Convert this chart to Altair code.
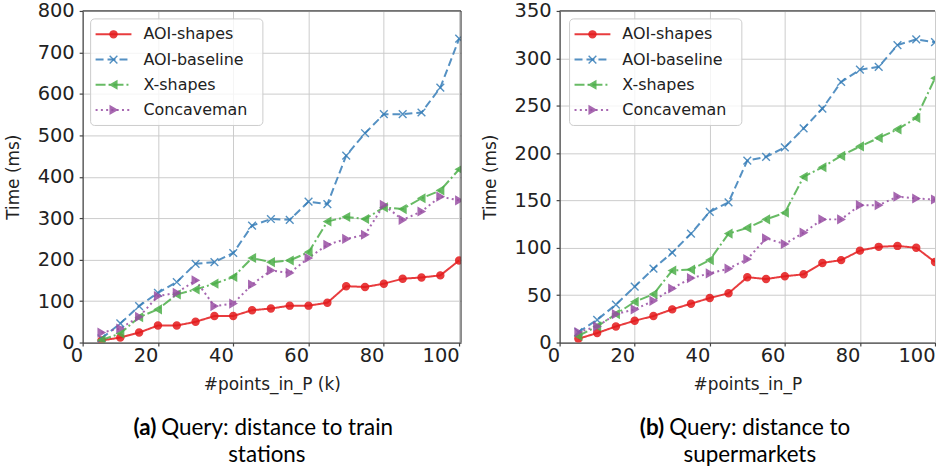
import altair as alt
import pandas as pd

SERIES = ["AOI-shapes", "AOI-baseline", "X-shapes", "Concaveman"]
X_POINTS = [5, 10, 15, 20, 25, 30, 35, 40, 45, 50, 55, 60, 65, 70, 75, 80, 85, 90, 95, 100]

TRAIN_AOI_SHAPES = [5, 12, 24, 41, 41, 50, 64, 64, 78, 82, 89, 89, 96, 136, 134, 142, 154, 157, 162, 198]
TRAIN_AOI_BASELINE = [10, 46, 88, 120, 146, 190, 194, 216, 282, 298, 296, 340, 334, 451, 505, 551, 551, 555, 615, 733]
TRAIN_X_SHAPES = [6, 22, 61, 80, 116, 128, 142, 158, 204, 194, 198, 218, 292, 303, 298, 326, 322, 348, 367, 418]
TRAIN_CONCAVEMAN = [24, 34, 62, 112, 120, 150, 88, 94, 140, 174, 168, 204, 236, 250, 260, 332, 296, 316, 352, 343]

SUPER_AOI_SHAPES = [4, 10, 17, 23, 28, 35, 41, 47, 52, 69, 67, 70, 72, 84, 87, 97, 101, 102, 100, 85]
SUPER_AOI_BASELINE = [11, 24, 40, 59, 78, 95, 115, 138, 148, 192, 196, 206, 226, 247, 275, 288, 291, 314, 320, 317]
SUPER_X_SHAPES = [7, 17, 30, 43, 51, 76, 77, 87, 115, 121, 130, 137, 175, 185, 197, 207, 216, 225, 237, 279]
SUPER_CONCAVEMAN = [11, 17, 30, 35, 44, 57, 68, 73, 78, 88, 110, 104, 116, 130, 130, 145, 145, 154, 152, 151]

X_TICKS = [0, 20, 40, 60, 80, 100]
TRAIN_Y_TICKS = [0, 100, 200, 300, 400, 500, 600, 700, 800]
SUPER_Y_TICKS = [0, 50, 100, 150, 200, 250, 300, 350]

CAPTION_A = ["(a)", "Query: distance to train", "stations"]
CAPTION_B = ["(b)", "Query: distance to", "supermarkets"]
X_TITLE_A = "#points_in_P (k)"
X_TITLE_B = "#points_in_P"
Y_TITLE = "Time (ms)"

COLORS = ["#e41a1c", "#377eb8", "#4daf4a", "#984ea3"]
DASHES = [[1, 0], [8, 4], [10, 3, 2, 3], [2, 3.3]]
SHAPES = ["circle", "M-1,-1L1,1M-1,1L1,-1", "triangle-left", "triangle-right"]
SIZES = [50, 60, 60, 60]

H = 333
FONT = "DejaVu Sans"
CAP_FONT = "Lato"
CAP_SIZE = 22.5
FRAME = "#444444"


def make_panel(series_values, y_max, y_ticks, width, x_max, x_title, caption,
               dx, cap_pos, right_frame):
    rows = []
    for name, vals in zip(SERIES, series_values):
        for xv, yv in zip(X_POINTS, vals):
            rows.append({"x": xv, "t": yv, "s": name})
    df = pd.DataFrame(rows)

    x_enc = alt.X("x:Q", scale=alt.Scale(domain=[0, x_max], nice=False, zero=False),
                  axis=alt.Axis(values=X_TICKS, title=x_title, labelAlign="right",
                                labelBaseline="top", labelPadding=1, labelFlush=False,
                                titlePadding=11, titleFont=FONT, titleFontSize=17,
                                format="d"))
    y_enc = alt.Y("t:Q", scale=alt.Scale(domain=[0, y_max], nice=False),
                  axis=alt.Axis(values=y_ticks, title=Y_TITLE, labelPadding=5,
                                titlePadding=15, titleFontSize=17, format="d"))
    color = alt.Color("s:N", scale=alt.Scale(domain=SERIES, range=COLORS), legend=None)

    base = alt.Chart(df).encode(x=x_enc, y=y_enc, color=color)
    lines = base.mark_line(strokeWidth=2, opacity=0.85, clip=True).encode(
        strokeDash=alt.StrokeDash("s:N", scale=alt.Scale(domain=SERIES, range=DASHES), legend=None)
    )
    layers = [lines]
    for i, name in enumerate(SERIES):
        pts = alt.Chart(df).transform_filter(alt.datum.s == name).mark_point(
            shape=SHAPES[i], filled=True, size=SIZES[i], opacity=0.85,
            color=COLORS[i], stroke=COLORS[i], strokeWidth=1.4, clip=True
        ).encode(x=alt.X("x:Q"), y=alt.Y("t:Q"))
        layers.append(pts)

    one = pd.DataFrame({"k": [0]})
    # frame
    layers.append(alt.Chart(one).mark_rule(color=FRAME, strokeWidth=1.2).encode(
        x=alt.value(0), x2=alt.value(width), y=alt.value(0)))
    if right_frame:
        layers.append(alt.Chart(one).mark_rule(color=FRAME, strokeWidth=1.2).encode(
            x=alt.value(width), y=alt.value(0), y2=alt.value(H)))

    # legend box
    layers.append(alt.Chart(one).mark_rect(
        fill="white", fillOpacity=0.8, stroke="#cccccc", strokeWidth=1, cornerRadius=4
    ).encode(x=alt.value(8 + dx), x2=alt.value(181 + dx), y=alt.value(8), y2=alt.value(115)))
    for i, name in enumerate(SERIES):
        yy = 23.5 + 25.3 * i
        ld = pd.DataFrame({"s": [name]})
        layers.append(alt.Chart(ld).mark_rule(
            color=COLORS[i], strokeDash=DASHES[i], strokeWidth=2, opacity=0.85
        ).encode(x=alt.value(13 + dx), x2=alt.value(49 + dx), y=alt.value(yy)))
        layers.append(alt.Chart(ld).mark_point(
            shape=SHAPES[i], filled=True, size=SIZES[i], opacity=0.85,
            color=COLORS[i], stroke=COLORS[i], strokeWidth=1.4
        ).encode(x=alt.value(31 + dx), y=alt.value(yy)))
        layers.append(alt.Chart(ld).mark_text(
            align="left", baseline="middle", font=FONT, fontSize=16, color="#222222"
        ).encode(text="s:N", x=alt.value(61 + dx), y=alt.value(yy)))

    # caption
    cd = pd.DataFrame({"a": [caption[0]], "b": [caption[1]], "c": [caption[2]]})
    jx, line2x = cap_pos
    layers.append(alt.Chart(cd).mark_text(
        align="right", baseline="middle", font=CAP_FONT, fontSize=CAP_SIZE, fontWeight="bold",
        color="black"
    ).encode(text="a:N", x=alt.value(jx), y=alt.value(419)))
    layers.append(alt.Chart(cd).mark_text(
        align="left", baseline="middle", font=CAP_FONT, fontSize=CAP_SIZE, color="black"
    ).encode(text="b:N", x=alt.value(jx + 5), y=alt.value(419)))
    layers.append(alt.Chart(cd).mark_text(
        align="center", baseline="middle", font=CAP_FONT, fontSize=CAP_SIZE, color="black"
    ).encode(text="c:N", x=alt.value(line2x), y=alt.value(446)))

    return alt.layer(*layers).properties(width=width, height=H)


left = make_panel([TRAIN_AOI_SHAPES, TRAIN_AOI_BASELINE, TRAIN_X_SHAPES, TRAIN_CONCAVEMAN],
                  800, TRAIN_Y_TICKS, 380, 100.5, X_TITLE_A, CAPTION_A, 0, (74, 185), True)
right = make_panel([SUPER_AOI_SHAPES, SUPER_AOI_BASELINE, SUPER_X_SHAPES, SUPER_CONCAVEMAN],
                   350, SUPER_Y_TICKS, 377, 100, X_TITLE_B, CAPTION_B, 2, (105, 191), False)

chart = alt.hconcat(left, right, spacing=19).properties(
    padding={"left": 4, "top": 0, "right": 0, "bottom": 0}
).configure_view(stroke=None).configure_axis(
    domainColor=FRAME, domainWidth=1.2, tickColor=FRAME, tickSize=3.5, tickWidth=1.2,
    gridColor="#cccccc", gridWidth=1, labelFont=FONT, labelFontSize=19.5,
    labelColor="#222222", titleFont=FONT, titleFontWeight="normal", titleColor="#222222"
)

chart.save("out.html", embed_options={"renderer": "svg", "actions": False})
